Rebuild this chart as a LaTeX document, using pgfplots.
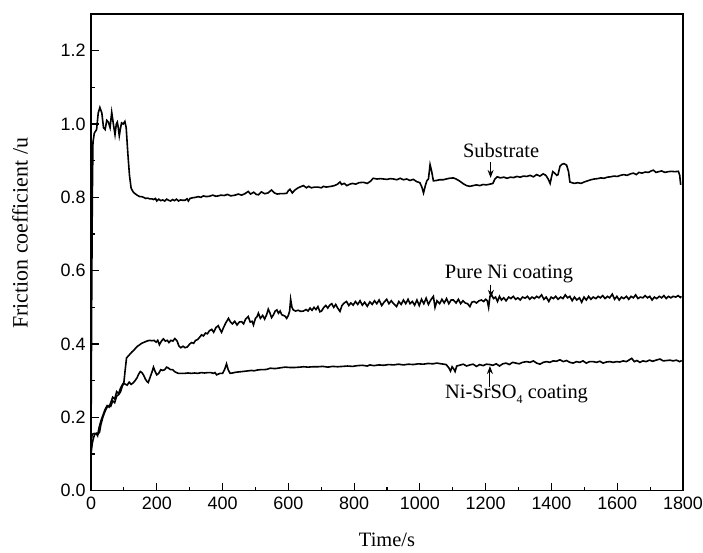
\documentclass[border=0pt]{standalone}
\usepackage{pgfplots}
\pgfplotsset{compat=1.18}
\usepackage{fontspec}
\setmainfont{Liberation Serif}
\newfontfamily\sansf{Liberation Sans}
\usetikzlibrary{arrows.meta}
\begin{document}
\begin{tikzpicture}
\path[use as bounding box] (-91bp,-62.3bp) rectangle (612bp,490.7bp);
\begin{axis}[
  at={(0,0)}, anchor=south west,
  scale only axis, width=592bp, height=476.7bp,
  xmin=0, xmax=1800, ymin=0, ymax=1.3,
  xtick={0,200,...,1800}, ytick={0,0.2,...,1.2},
  minor x tick num=1, minor y tick num=1,
  xtick pos=left, ytick pos=left,
  tick align=inside,
  major tick length=8bp, minor tick length=4bp,
  every tick/.style={black, line width=1.2bp},
  axis line style={line width=1.5bp},
  /pgf/number format/assume math mode=true,
  ticklabel style={font=\sansf\fontsize{18}{21}\selectfont},
  xticklabel style={/pgf/number format/1000 sep={}, yshift=-3bp},
  yticklabel style={/pgf/number format/fixed, /pgf/number format/fixed zerofill, /pgf/number format/precision=1, xshift=-2bp},
  xlabel={Time/s}, ylabel={Friction coefficient /u},
  xlabel style={font=\fontsize{20.5}{24}\selectfont, at={(axis description cs:0.5,-0.103)}, anchor=center},
  ylabel style={font=\fontsize{22}{26}\selectfont, at={(axis description cs:-0.12,0.54)}, anchor=center, rotate=0},
  clip=false,
]
% Substrate
\addplot[black, line width=1.6bp] coordinates {
(0,0.12)(2,0.5)(4,0.8)(6,0.95)(10,0.975)(17,0.985)(22,1.03)(27,1.045)(33,1.03)(38,0.99)(43,0.985)(48,1.01)(53,1.005)(58,0.99)(63,1.032)(68,1.0)(73,0.971)(77,1.0)(80,1.005)(83,0.99)(86,0.968)(90,0.99)(93,1.003)(98,1.0)(103,1.007)(107,0.99)(112,0.92)(117,0.86)(122,0.825)(128,0.815)(134,0.81)(140,0.806)(148,0.802)(154,0.802)(160,0.8)(166,0.797)(172,0.798)(178,0.796)(185,0.796)(190,0.794)(196,0.797)(200,0.79)(206,0.795)(212,0.791)(218,0.793)(224,0.79)(230,0.795)(236,0.792)(242,0.79)(248,0.794)(254,0.791)(260,0.795)(266,0.79)(272,0.793)(278,0.792)(286,0.792)(292,0.796)(296,0.79)(301,0.797)(310,0.799)(318,0.8)(326,0.802)(334,0.8)(342,0.804)(350,0.802)(360,0.803)(370,0.806)(380,0.803)(387,0.804)(395,0.806)(405,0.805)(415,0.808)(425,0.804)(438,0.806)(448,0.809)(458,0.806)(468,0.81)(478,0.816)(485,0.809)(495,0.814)(502,0.808)(509,0.807)(518,0.815)(528,0.81)(538,0.812)(549,0.82)(558,0.812)(566,0.809)(575,0.81)(585,0.81)(595,0.811)(600,0.818)(605,0.822)(612,0.812)(620,0.82)(630,0.826)(640,0.83)(646,0.832)(655,0.826)(662,0.83)(670,0.826)(680,0.828)(690,0.828)(700,0.826)(707,0.83)(715,0.828)(722,0.829)(730,0.83)(740,0.832)(750,0.836)(757,0.842)(762,0.835)(770,0.838)(778,0.832)(787,0.836)(795,0.838)(805,0.836)(815,0.84)(828,0.841)(840,0.838)(850,0.844)(858,0.852)(870,0.85)(880,0.851)(890,0.85)(900,0.849)(910,0.851)(920,0.85)(930,0.848)(940,0.852)(950,0.848)(960,0.85)(970,0.846)(980,0.849)(990,0.843)(1000,0.84)(1006,0.828)(1011,0.812)(1016,0.83)(1021,0.845)(1026,0.85)(1031,0.889)(1036,0.87)(1041,0.845)(1050,0.846)(1060,0.848)(1071,0.848)(1080,0.85)(1090,0.852)(1102,0.853)(1110,0.85)(1120,0.845)(1132,0.837)(1142,0.832)(1152,0.83)(1162,0.832)(1172,0.834)(1182,0.832)(1192,0.835)(1202,0.834)(1213,0.836)(1222,0.838)(1228,0.85)(1235,0.856)(1245,0.853)(1255,0.855)(1265,0.852)(1275,0.855)(1285,0.854)(1295,0.857)(1305,0.855)(1315,0.858)(1325,0.857)(1335,0.86)(1345,0.856)(1355,0.862)(1365,0.858)(1375,0.864)(1383,0.86)(1390,0.85)(1396,0.838)(1400,0.855)(1404,0.87)(1410,0.866)(1416,0.86)(1420,0.862)(1426,0.885)(1432,0.89)(1438,0.892)(1446,0.888)(1452,0.87)(1456,0.842)(1462,0.84)(1470,0.838)(1480,0.84)(1490,0.838)(1500,0.842)(1510,0.845)(1520,0.848)(1530,0.85)(1540,0.851)(1550,0.853)(1560,0.852)(1570,0.855)(1580,0.856)(1590,0.858)(1600,0.857)(1610,0.86)(1620,0.862)(1630,0.86)(1640,0.864)(1649,0.866)(1658,0.862)(1666,0.868)(1675,0.866)(1685,0.869)(1695,0.868)(1703,0.872)(1710,0.874)(1718,0.868)(1726,0.87)(1735,0.872)(1745,0.868)(1755,0.87)(1765,0.871)(1775,0.87)(1786,0.871)(1790,0.86)(1793,0.834)
};
% Pure Ni coating
\addplot[black, line width=1.6bp] coordinates {
(0,0.10)(4,0.13)(8,0.145)(12,0.155)(16,0.156)(20,0.15)(24,0.17)(30,0.19)(36,0.205)(42,0.22)(49,0.232)(55,0.228)(60,0.24)(66,0.255)(72,0.25)(78,0.27)(84,0.265)(90,0.28)(96,0.29)(100,0.295)(104,0.33)(108,0.362)(116,0.37)(124,0.378)(132,0.385)(140,0.393)(148,0.398)(154,0.402)(162,0.405)(170,0.408)(178,0.41)(185,0.409)(192,0.41)(198,0.405)(203,0.41)(208,0.398)(214,0.408)(220,0.414)(226,0.408)(232,0.41)(237,0.404)(243,0.41)(249,0.408)(255,0.415)(262,0.408)(267,0.395)(273,0.39)(280,0.394)(286,0.39)(293,0.392)(300,0.4)(306,0.404)(312,0.402)(318,0.41)(324,0.412)(330,0.418)(336,0.425)(342,0.422)(348,0.43)(354,0.428)(360,0.436)(367,0.44)(373,0.432)(380,0.445)(387,0.45)(392,0.44)(397,0.432)(403,0.445)(410,0.458)(418,0.47)(424,0.46)(430,0.455)(437,0.462)(444,0.452)(451,0.46)(458,0.461)(464,0.455)(470,0.468)(478,0.475)(484,0.46)(490,0.462)(494,0.452)(500,0.47)(505,0.475)(509,0.484)(515,0.47)(522,0.478)(528,0.468)(534,0.48)(539,0.495)(544,0.485)(549,0.472)(555,0.48)(560,0.49)(565,0.493)(570,0.484)(575,0.49)(580,0.48)(585,0.478)(590,0.476)(595,0.47)(600,0.478)(604,0.49)(607,0.522)(611,0.5)(615,0.493)(622,0.49)(630,0.492)(638,0.489)(646,0.49)(654,0.494)(660,0.49)(666,0.498)(672,0.492)(678,0.5)(684,0.494)(690,0.502)(696,0.488)(701,0.49)(708,0.5)(714,0.505)(720,0.498)(726,0.506)(732,0.51)(738,0.5)(744,0.508)(750,0.498)(757,0.489)(763,0.505)(770,0.512)(777,0.516)(784,0.505)(790,0.512)(797,0.506)(804,0.516)(811,0.508)(818,0.518)(825,0.506)(832,0.514)(840,0.503)(848,0.515)(855,0.508)(862,0.518)(869,0.51)(876,0.52)(884,0.505)(891,0.514)(899,0.522)(906,0.51)(913,0.518)(920,0.51)(929,0.502)(936,0.516)(943,0.508)(950,0.52)(957,0.51)(964,0.522)(970,0.51)(977,0.516)(984,0.506)(991,0.52)(998,0.505)(1005,0.522)(1012,0.51)(1019,0.525)(1026,0.508)(1033,0.52)(1041,0.53)(1046,0.5)(1052,0.518)(1060,0.51)(1067,0.522)(1074,0.512)(1081,0.524)(1088,0.51)(1095,0.52)(1102,0.52)(1110,0.512)(1117,0.522)(1124,0.51)(1131,0.518)(1138,0.512)(1145,0.51)(1152,0.502)(1158,0.514)(1165,0.516)(1172,0.512)(1180,0.518)(1187,0.52)(1194,0.516)(1200,0.522)(1205,0.518)(1209,0.5)(1213,0.53)(1218,0.534)(1224,0.524)(1230,0.528)(1236,0.516)(1242,0.53)(1248,0.52)(1255,0.526)(1262,0.518)(1270,0.528)(1277,0.524)(1284,0.53)(1291,0.522)(1298,0.526)(1305,0.52)(1312,0.528)(1320,0.525)(1327,0.53)(1334,0.522)(1341,0.528)(1348,0.524)(1355,0.53)(1362,0.526)(1370,0.534)(1377,0.522)(1384,0.528)(1392,0.516)(1399,0.528)(1406,0.524)(1413,0.53)(1420,0.522)(1428,0.528)(1435,0.524)(1442,0.534)(1449,0.526)(1456,0.53)(1463,0.518)(1470,0.528)(1477,0.52)(1485,0.526)(1492,0.514)(1499,0.528)(1506,0.52)(1513,0.53)(1520,0.522)(1527,0.528)(1535,0.524)(1542,0.53)(1549,0.526)(1556,0.532)(1563,0.524)(1570,0.53)(1577,0.526)(1585,0.536)(1592,0.522)(1599,0.53)(1606,0.52)(1613,0.528)(1620,0.524)(1628,0.53)(1635,0.522)(1642,0.53)(1649,0.526)(1656,0.534)(1663,0.524)(1670,0.528)(1678,0.526)(1685,0.532)(1692,0.526)(1699,0.53)(1706,0.52)(1713,0.528)(1720,0.524)(1728,0.53)(1735,0.526)(1742,0.532)(1749,0.524)(1756,0.53)(1763,0.526)(1770,0.53)(1778,0.528)(1785,0.532)(1792,0.527)(1795,0.53)
};
% Ni-SrSO4 coating
\addplot[black, line width=1.6bp] coordinates {
(0,0.13)(3,0.15)(6,0.155)(10,0.156)(14,0.155)(18,0.157)(22,0.155)(26,0.16)(30,0.18)(36,0.2)(42,0.215)(49,0.228)(55,0.232)(60,0.23)(66,0.245)(72,0.24)(78,0.258)(84,0.262)(90,0.27)(95,0.285)(100,0.293)(105,0.29)(110,0.288)(116,0.296)(122,0.29)(128,0.294)(134,0.3)(140,0.308)(145,0.318)(150,0.325)(155,0.322)(160,0.315)(165,0.305)(170,0.298)(174,0.295)(180,0.31)(186,0.325)(190,0.337)(195,0.325)(200,0.316)(206,0.32)(212,0.33)(218,0.328)(224,0.33)(230,0.337)(236,0.334)(242,0.33)(248,0.33)(254,0.325)(260,0.322)(266,0.32)(275,0.32)(285,0.32)(295,0.321)(305,0.32)(315,0.321)(325,0.32)(335,0.322)(345,0.321)(355,0.322)(365,0.322)(372,0.32)(377,0.322)(382,0.316)(387,0.318)(392,0.32)(400,0.32)(406,0.33)(412,0.346)(417,0.33)(423,0.32)(430,0.321)(440,0.323)(450,0.324)(460,0.325)(470,0.326)(480,0.327)(488,0.328)(496,0.327)(505,0.329)(515,0.33)(525,0.33)(535,0.331)(545,0.334)(560,0.333)(575,0.335)(590,0.337)(605,0.336)(620,0.336)(635,0.337)(646,0.338)(660,0.337)(675,0.338)(690,0.338)(705,0.339)(720,0.337)(735,0.339)(750,0.338)(765,0.339)(780,0.34)(795,0.339)(810,0.341)(825,0.342)(840,0.34)(848,0.343)(860,0.341)(875,0.343)(890,0.342)(905,0.344)(920,0.343)(935,0.345)(950,0.343)(965,0.345)(980,0.344)(995,0.346)(1010,0.345)(1025,0.347)(1040,0.346)(1051,0.348)(1065,0.346)(1080,0.344)(1088,0.335)(1093,0.326)(1098,0.338)(1103,0.332)(1107,0.325)(1112,0.34)(1120,0.342)(1132,0.345)(1142,0.34)(1152,0.343)(1162,0.345)(1172,0.339)(1182,0.344)(1192,0.341)(1202,0.345)(1213,0.344)(1222,0.342)(1232,0.346)(1242,0.34)(1252,0.346)(1262,0.348)(1272,0.344)(1282,0.35)(1292,0.348)(1302,0.346)(1312,0.35)(1325,0.352)(1335,0.35)(1345,0.354)(1355,0.348)(1365,0.345)(1375,0.35)(1385,0.352)(1395,0.35)(1405,0.354)(1415,0.353)(1426,0.357)(1436,0.352)(1446,0.355)(1456,0.35)(1466,0.348)(1476,0.352)(1486,0.35)(1496,0.354)(1506,0.348)(1516,0.352)(1527,0.352)(1537,0.35)(1547,0.353)(1557,0.348)(1567,0.351)(1578,0.352)(1588,0.35)(1598,0.352)(1608,0.351)(1618,0.354)(1628,0.352)(1637,0.357)(1644,0.361)(1652,0.352)(1660,0.355)(1669,0.35)(1678,0.354)(1688,0.352)(1698,0.356)(1708,0.353)(1718,0.356)(1730,0.359)(1740,0.354)(1750,0.355)(1760,0.356)(1770,0.354)(1780,0.356)(1790,0.352)(1796,0.355)
};
\node[font=\fontsize{20.5}{24}\selectfont, anchor=center] at (axis cs:1247,0.927) {Substrate};
\node[font=\fontsize{20.5}{24}\selectfont, anchor=center] at (axis cs:1271,0.591) {Pure Ni coating};
\node[font=\fontsize{20.5}{24}\selectfont, anchor=center] at (axis cs:1294,0.263) {Ni-SrSO\raisebox{-0.45ex}{\fontsize{12}{14}\selectfont 4} coating};
\draw[-{Stealth[length=8bp,width=6bp]}, line width=1bp] (axis cs:1215,0.896) -- (axis cs:1215,0.853);
\draw[-{Stealth[length=8bp,width=6bp]}, line width=1bp] (axis cs:1216,0.562) -- (axis cs:1216,0.526);
\draw[-{Stealth[length=8bp,width=6bp]}, line width=1bp] (axis cs:1213,0.284) -- (axis cs:1213,0.340);
\end{axis}
\end{tikzpicture}
\end{document}
